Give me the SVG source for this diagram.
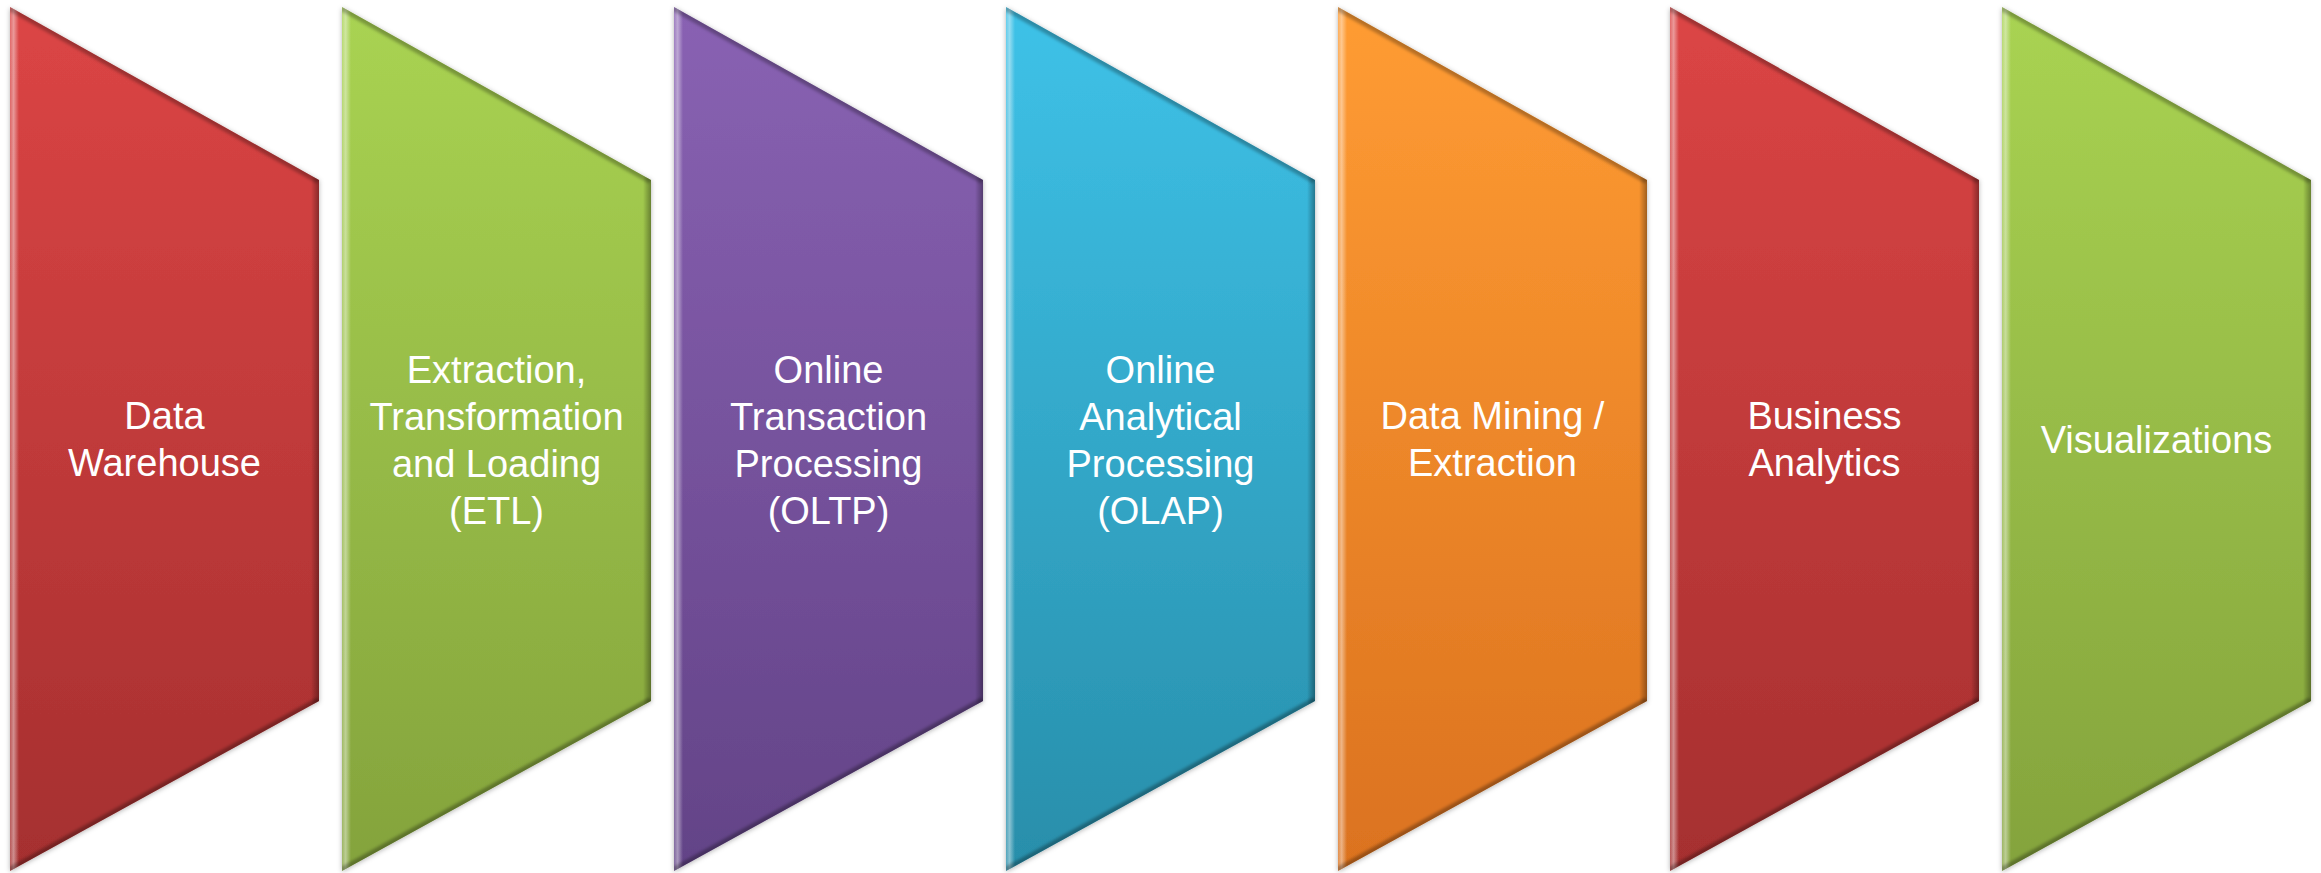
<svg xmlns="http://www.w3.org/2000/svg" width="2321" height="873" viewBox="0 0 2321 873">
<defs>
<style>
.lbl{font-family:"Liberation Sans","Noto Sans",Arial,sans-serif;font-size:38px;fill:#ffffff;text-anchor:middle}
</style>
<path id="shp" d="M0,7 L309,180 L309,701 L0,871 Z"/>
<clipPath id="clip"><use href="#shp"/></clipPath>
<filter id="sh" x="-5%" y="-5%" width="110%" height="110%">
<feDropShadow dx="0" dy="1" stdDeviation="2.5" flood-color="#000" flood-opacity="0.3"/>
</filter>
<filter id="bl" x="-10%" y="-10%" width="120%" height="120%"><feGaussianBlur stdDeviation="1.5"/></filter>
<linearGradient id="gRed" x1="0" y1="0" x2="0" y2="1"><stop offset="0" stop-color="#DC4545"/><stop offset="1" stop-color="#A52F2F"/></linearGradient>
<linearGradient id="gGreen" x1="0" y1="0" x2="0" y2="1"><stop offset="0" stop-color="#A9D352"/><stop offset="1" stop-color="#84A33C"/></linearGradient>
<linearGradient id="gPurple" x1="0" y1="0" x2="0" y2="1"><stop offset="0" stop-color="#8962B3"/><stop offset="1" stop-color="#634387"/></linearGradient>
<linearGradient id="gCyan" x1="0" y1="0" x2="0" y2="1"><stop offset="0" stop-color="#3EC2E8"/><stop offset="1" stop-color="#288EAA"/></linearGradient>
<linearGradient id="gOrange" x1="0" y1="0" x2="0" y2="1"><stop offset="0" stop-color="#FF9C33"/><stop offset="1" stop-color="#DB721F"/></linearGradient>
<linearGradient id="hl" x1="0" y1="0" x2="1" y2="0"><stop offset="0" stop-color="#fff" stop-opacity="0.2"/><stop offset="0.4" stop-color="#fff" stop-opacity="0.45"/><stop offset="1" stop-color="#fff" stop-opacity="0"/></linearGradient>
<linearGradient id="dk" x1="0" y1="0" x2="1" y2="0"><stop offset="0" stop-color="#000" stop-opacity="0"/><stop offset="1" stop-color="#000" stop-opacity="0.35"/></linearGradient>
<g id="bev">
<g clip-path="url(#clip)">
<rect x="0" y="0" width="9" height="873" fill="url(#hl)"/>
<rect x="301" y="0" width="8" height="873" fill="url(#dk)"/>
<line x1="0" y1="7" x2="309" y2="180" stroke="#000" stroke-opacity="0.28" stroke-width="8" filter="url(#bl)"/>
<line x1="0" y1="871" x2="309" y2="701" stroke="#000" stroke-opacity="0.3" stroke-width="8" filter="url(#bl)"/>
</g>
</g>
</defs>
<g id="connectors"></g>
<g id="node1" transform="translate(10,0)">
<use href="#shp" fill="url(#gRed)" filter="url(#sh)"/><use href="#bev"/>
<text class="lbl" x="154.5" y="429">Data</text>
<text class="lbl" x="154.5" y="476">Warehouse</text>
</g>
<g id="node2" transform="translate(342,0)">
<use href="#shp" fill="url(#gGreen)" filter="url(#sh)"/><use href="#bev"/>
<text class="lbl" x="154.5" y="383">Extraction,</text>
<text class="lbl" x="154.5" y="430">Transformation</text>
<text class="lbl" x="154.5" y="477">and Loading</text>
<text class="lbl" x="154.5" y="524">(ETL)</text>
</g>
<g id="node3" transform="translate(674,0)">
<use href="#shp" fill="url(#gPurple)" filter="url(#sh)"/><use href="#bev"/>
<text class="lbl" x="154.5" y="383">Online</text>
<text class="lbl" x="154.5" y="430">Transaction</text>
<text class="lbl" x="154.5" y="477">Processing</text>
<text class="lbl" x="154.5" y="524">(OLTP)</text>
</g>
<g id="node4" transform="translate(1006,0)">
<use href="#shp" fill="url(#gCyan)" filter="url(#sh)"/><use href="#bev"/>
<text class="lbl" x="154.5" y="383">Online</text>
<text class="lbl" x="154.5" y="430">Analytical</text>
<text class="lbl" x="154.5" y="477">Processing</text>
<text class="lbl" x="154.5" y="524">(OLAP)</text>
</g>
<g id="node5" transform="translate(1338,0)">
<use href="#shp" fill="url(#gOrange)" filter="url(#sh)"/><use href="#bev"/>
<text class="lbl" x="154.5" y="429">Data Mining /</text>
<text class="lbl" x="154.5" y="476">Extraction</text>
</g>
<g id="node6" transform="translate(1670,0)">
<use href="#shp" fill="url(#gRed)" filter="url(#sh)"/><use href="#bev"/>
<text class="lbl" x="154.5" y="429">Business</text>
<text class="lbl" x="154.5" y="476">Analytics</text>
</g>
<g id="node7" transform="translate(2002,0)">
<use href="#shp" fill="url(#gGreen)" filter="url(#sh)"/><use href="#bev"/>
<text class="lbl" x="154.5" y="453">Visualizations</text>
</g>
</svg>
